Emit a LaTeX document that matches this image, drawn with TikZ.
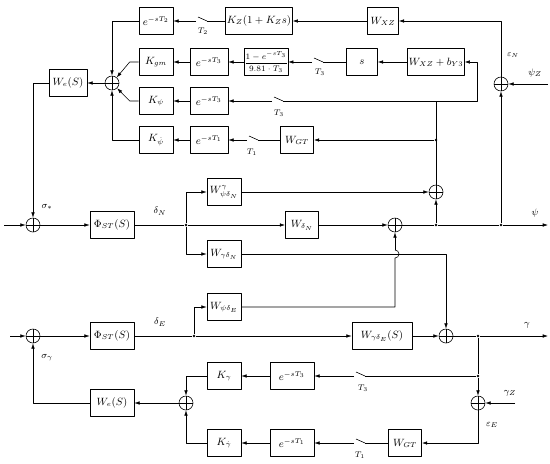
\documentclass[tikz,border=0pt]{standalone}
\usepackage{amsmath,amssymb}
\usetikzlibrary{calc,arrows.meta}

\begin{document}
\begin{tikzpicture}[x=0.3mm,y=-0.3mm,>={Latex[length=4.5pt,width=3pt]},font=\footnotesize,line join=round,line width=0.5pt,
	blk/.style={draw,font=\small,minimum width=#1,minimum height=8mm,inner sep=1pt},blk/.default=10.2mm,
	sm/.style={draw,circle,minimum size=4.2mm,inner sep=0pt,path picture={\draw (path picture bounding box.north)--(path picture bounding box.south) (path picture bounding box.west)--(path picture bounding box.east);}},
	dot/.style={circle,fill,inner sep=0pt,minimum size=2.4pt},
	lbl/.style={font=\scriptsize}]
	\useasboundingbox (0,0) rectangle (550,463);
	% upper loop
	\node[sm] (sN) at (501,84) {};
	\node[blk=9.3mm] (wxz) at (383,21) {$W_{XZ}$};
	\node[blk=16.2mm] (kz) at (259,21) {$K_Z(1+K_Z s)$};
	\node[blk] (et2) at (156,21) {$e^{-sT_2}$};
	\node[blk=16.8mm] (wxb) at (436,62) {$W_{XZ}+b_{Y3}$};
	\node[blk=9.3mm] (sbox) at (362,62) {$s$};
	\node[blk=11.7mm,inner sep=0pt,font=\scriptsize] (frac) at (266,62) {$\dfrac{1-e^{-sT_3}}{9.81\cdot T_3}$};
	\node[blk=11.4mm] (e3a) at (209,62) {$e^{-sT_3}$};
	\node[blk] (kgm) at (156,62) {$K_{gm}$};
	\node[blk=11.4mm] (e3b) at (209,101) {$e^{-sT_3}$};
	\node[blk] (kpsi) at (156,101) {$K_{\psi}$};
	\node[blk=10mm] (wgt) at (297,140) {$W_{GT}$};
	\node[blk=11.4mm] (e1a) at (209,140) {$e^{-sT_1}$};
	\node[blk] (kdpsi) at (156,140) {$K_{\dot\psi}$};
	\node[sm] (sumL) at (112,83) {};
	\node[blk=11.4mm] (we1) at (68,83) {$W_e(S)$};
	\node[sm] (sumU) at (436,192) {};
	\node[dot] (j1) at (436,140) {};
	\coordinate (c1) at (436,101);
	\coordinate (c2) at (477,101);
	\coordinate (pz) at (548,84);
	% switches
	\coordinate (s2) at (207,21); \coordinate (s2l) at (196,21);
	\coordinate (s3a) at (323,62); \coordinate (s3al) at (312,62);
	\coordinate (s3b) at (283,101); \coordinate (s3bl) at (272,101);
	\coordinate (s1a) at (258,140); \coordinate (s1al) at (247,140);
	\coordinate (s3c) at (365,376); \coordinate (s3cl) at (354,376);
	\coordinate (s1b) at (365,443); \coordinate (s1bl) at (354,443);
	\foreach \s in {s2,s3a,s3b,s1a,s3c,s1b} \draw (\s) -- ++(-9,-4);
	% psi channel
	\coordinate (in1) at (4,225);
	\coordinate (out1) at (548,225);
	\node[sm] (sumS) at (33,225) {};
	\node[blk=13.2mm] (phi1) at (112,225) {$\Phi_{ST}(S)$};
	\node[dot] (j0) at (186,225) {};
	\node[blk] (wg) at (224,192) {$W^{\gamma}_{\psi\delta_N}$};
	\node[blk=10mm] (wdn) at (302,225) {$W_{\delta_N}$};
	\node[blk] (wgn) at (224,254) {$W_{\gamma\delta_N}$};
	\node[sm] (sumM) at (395,225) {};
	\node[dot] (jA) at (436,225) {};
	\node[dot] (jB) at (501,225) {};
	\coordinate (hop) at (395,258);
	% gamma channel
	\coordinate (in2) at (10,336);
	\coordinate (out2) at (548,336);
	\coordinate (gz) at (515,403);
	\node[sm] (sumY) at (33,336) {};
	\node[blk=13.2mm] (phi2) at (112,336) {$\Phi_{ST}(S)$};
	\node[dot] (j2) at (194,336) {};
	\node[blk] (wpe) at (224,307) {$W_{\psi\delta_E}$};
	\node[blk=18mm] (wge) at (382,336) {$W_{\gamma\delta_E}(S)$};
	\node[sm] (sumG) at (446,336) {};
	\node[dot] (jC) at (478,336) {};
	\node[dot] (jD) at (478,376) {};
	\node[sm] (sumE) at (478,403) {};
	\node[blk=10mm] (wgt2) at (405,443) {$W_{GT}$};
	\node[blk=13.2mm] (e1b) at (292,443) {$e^{-sT_1}$};
	\node[blk] (kdg) at (224,443) {$K_{\dot\gamma}$};
	\node[blk=13.2mm] (e3c) at (292,376) {$e^{-sT_3}$};
	\node[blk] (kg) at (224,376) {$K_{\gamma}$};
	\node[sm] (sumK) at (186,403) {};
	\node[blk=13.2mm] (we2) at (112,403) {$W_e(S)$};
	% connectors, upper
	\draw[->] (jB) -- (sN);
	\draw[->] (pz) -- (sN);
	\draw[->] (sN) |- (wxz);
	\draw[->] (wxz) -- (kz);
	\draw (kz) -- (s2);
	\draw[->] (s2l) -- (et2);
	\draw[->] (et2) -- (sumL|-et2) -- (sumL);
	\draw[->] (sumU) -- (c1) -- (c2) |- (wxb);
	\draw[->] (wxb) -- (sbox);
	\draw (sbox) -- (s3a);
	\draw[->] (s3al) -- (frac);
	\draw[->] (frac) -- (e3a);
	\draw[->] (e3a) -- (kgm);
	\draw[->] (kgm.west) -- ++(-9,0) -- (sumL);
	\draw (c1) -- (s3b);
	\draw[->] (s3bl) -- (e3b);
	\draw[->] (e3b) -- (kpsi);
	\draw[->] (kpsi.west) -- ++(-9,0) -- (sumL);
	\draw[->] (j1) -- (wgt);
	\draw (wgt) -- (s1a);
	\draw[->] (s1al) -- (e1a);
	\draw[->] (e1a) -- (kdpsi);
	\draw[->] (kdpsi) -- (sumL|-kdpsi) -- (sumL);
	\draw[->] (sumL) -- (we1);
	\draw[->] (we1) -- (sumS|-we1) -- (sumS);
	% connectors, psi
	\draw[->] (in1) -- (sumS);
	\draw[->] (sumS) -- (phi1);
	\draw (phi1) -- (j0);
	\draw[->] (j0) |- (wg);
	\draw[->] (j0) -- (wdn);
	\draw[->] (j0) |- (wgn);
	\draw[->] (wg) -- (sumU);
	\draw[->] (wdn) -- (sumM);
	\draw (sumM) -- (jA) -- (jB);
	\draw[->] (jB) -- (out1);
	\draw[->] (jA) -- (sumU);
	\draw[->] (wgn) -| (sumG);
	\draw (wpe) -| (hop) arc[start angle=-90,end angle=90,radius=1.2mm];
	\draw[->] ($(hop)+(0,-8)$) -- (sumM);
	% connectors, gamma
	\draw[->] (in2) -- (sumY);
	\draw[->] (sumY) -- (phi2);
	\draw (phi2) -- (j2);
	\draw[->] (j2) |- (wpe);
	\draw[->] (j2) -- (wge);
	\draw[->] (wge) -- (sumG);
	\draw (sumG) -- (jC);
	\draw[->] (jC) -- (out2);
	\draw (jC) -- (jD);
	\draw[->] (jD) -- (sumE);
	\draw[->] (gz) -- (sumE);
	\draw[->] (sumE) |- (wgt2);
	\draw (wgt2) -- (s1b);
	\draw[->] (s1bl) -- (e1b);
	\draw[->] (e1b) -- (kdg);
	\draw[->] (kdg) -| (sumK);
	\draw (jD) -- (s3c);
	\draw[->] (s3cl) -- (e3c);
	\draw[->] (e3c) -- (kg);
	\draw[->] (kg) -| (sumK);
	\draw[->] (sumK) -- (we2);
	\draw[->] (we2) -| (sumY);
	% labels
	\node[lbl] at (203,31) {$T_2$};
	\node[lbl] at (320,72) {$T_3$};
	\node[lbl] at (279,113) {$T_3$};
	\node[lbl] at (252,152) {$T_1$};
	\node[lbl] at (363,388) {$T_3$};
	\node[lbl] at (360,455) {$T_1$};
	\node[lbl] at (513,55) {$\varepsilon_N$};
	\node at (535,73) {$\psi_Z$};
	\node at (47,207) {$\sigma_*$};
	\node at (160,211) {$\delta_N$};
	\node at (535,213) {$\psi$};
	\node at (160,322) {$\delta_E$};
	\node at (527,325) {$\gamma$};
	\node at (47,358) {$\sigma_\gamma$};
	\node at (510,393) {$\gamma_Z$};
	\node at (492,425) {$\varepsilon_E$};
\end{tikzpicture}
\end{document}
